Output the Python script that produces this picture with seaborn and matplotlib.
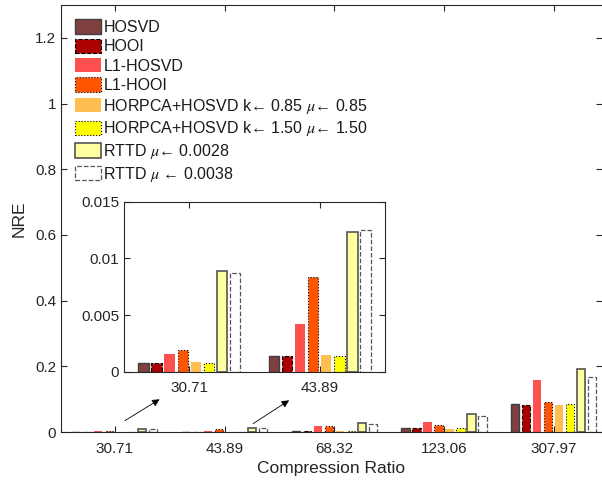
import numpy as np
import pandas as pd
import matplotlib
matplotlib.use('Agg')
import matplotlib.pyplot as plt
import seaborn as sns
from matplotlib.patches import Patch
from matplotlib.ticker import FuncFormatter

# data
ratios = ['30.71', '43.89', '68.32', '123.06', '307.97']
methods = ['HOSVD', 'HOOI', 'L1-HOSVD', 'L1-HOOI',
           'HORPCA+HOSVD k\u2190 0.85 $\\mu$\u2190 0.85',
           'HORPCA+HOSVD k\u2190 1.50 $\\mu$\u2190 1.50',
           'RTTD $\\mu$\u2190 0.0028',
           'RTTD $\\mu$ \u2190 0.0038']
hosvd = [0.00074, 0.00135, 0.004, 0.012, 0.085]
hooi = [0.00074, 0.00135, 0.004, 0.011, 0.083]
l1_hosvd = [0.00156, 0.0042, 0.018, 0.029, 0.158]
l1_hooi = [0.0019, 0.0084, 0.017, 0.021, 0.091]
horpca_085 = [0.00082, 0.00144, 0.003, 0.010, 0.082]
horpca_150 = [0.00074, 0.00135, 0.004, 0.012, 0.085]
rttd_0028 = [0.0089, 0.0123, 0.028, 0.054, 0.192]
rttd_0038 = [0.0087, 0.0125, 0.024, 0.050, 0.167]
series = [hosvd, hooi, l1_hosvd, l1_hooi, horpca_085, horpca_150, rttd_0028, rttd_0038]

# styles
faces = ['#804040', '#AA0000', '#FF5050', '#FF5500', '#FFBF50', '#FFFF00', '#FFFFA0', '#FFFFFF']
edges = ['#404040', 'black', 'none', 'black', 'none', 'black', '#555555', '#555555']
styles = ['-', '--', '-', ':', '-', ':', '-', '--']
widths = [1.0, 0.8, 0.0, 0.8, 0.0, 0.8, 1.2, 0.9]

sns.set_theme(style='ticks')
plt.rcParams['font.family'] = ['Liberation Sans', 'DejaVu Sans']
plt.rcParams['mathtext.fontset'] = 'stix'
axcol = '#262626'

df = pd.DataFrame([
    {'ratio': r, 'method': m, 'nre': v}
    for m, vals in zip(methods, series)
    for r, v in zip(ratios, vals)
])


def style_bars(ax):
    for i, cont in enumerate(ax.containers):
        for p in cont:
            p.set_facecolor(faces[i])
            p.set_edgecolor(edges[i])
            p.set_linestyle(styles[i])
            p.set_linewidth(widths[i])


def style_axes(ax):
    for s in ax.spines.values():
        s.set_color(axcol)
        s.set_linewidth(0.8)
    ax.tick_params(direction='in', length=4, width=0.8, colors=axcol,
                   labelsize=11, top=True, right=True)
    ax.tick_params(axis='x', pad=7)
    ax.yaxis.set_major_formatter(FuncFormatter(lambda v, p: '%g' % v))


fig = plt.figure(figsize=(6.02, 4.82), dpi=100)
ax = fig.add_axes([61 / 602, 50 / 482, 541 / 602, 427 / 482])
sns.barplot(data=df, x='ratio', y='nre', hue='method', order=ratios,
            hue_order=methods, palette=faces, gap=0.25, width=0.8,
            legend=False, ax=ax)
style_bars(ax)
style_axes(ax)
ax.spines['right'].set_visible(False)
ax.set_xlim(-0.49, 4.44)
ax.set_ylim(0, 1.3)
ax.set_yticks([0, 0.2, 0.4, 0.6, 0.8, 1.0, 1.2])
ax.set_xlabel('Compression Ratio', fontsize=12.5, color=axcol, labelpad=4)
ax.set_ylabel('NRE', fontsize=12.5, color=axcol, labelpad=6)

handles = [Patch(facecolor=f, edgecolor=e, linestyle=s, linewidth=max(w, 0.8) if e != 'none' else 0)
           for f, e, s, w in zip(faces, edges, styles, widths)]
leg = ax.legend(handles, methods, loc='upper left', bbox_to_anchor=(0.0, 1.0),
                frameon=False, fontsize=11.5, handlelength=1.6, handleheight=1.0,
                handletextpad=0.15, labelspacing=0.23, borderaxespad=0.5)
for t in leg.get_texts():
    t.set_color('#1a1a1a')

# arrows to the inset
ax.annotate('', xy=(0.43, 0.104), xytext=(0.07, 0.030),
            arrowprops=dict(arrowstyle='-|>', color='black', lw=0.6, mutation_scale=11))
ax.annotate('', xy=(1.61, 0.101), xytext=(1.24, 0.021),
            arrowprops=dict(arrowstyle='-|>', color='black', lw=0.6, mutation_scale=11))

# inset zoom of the two smallest ratios
ins = fig.add_axes([124 / 602, (482 - 371.7) / 482, 261 / 602, 170 / 482])
sns.barplot(data=df[df['ratio'].isin(ratios[:2])], x='ratio', y='nre', hue='method',
            order=ratios[:2], hue_order=methods, palette=faces, gap=0.2, width=0.8,
            legend=False, ax=ins)
style_bars(ins)
style_axes(ins)
ins.set_xlim(-0.5, 1.5)
ins.set_ylim(0, 0.015)
ins.set_yticks([0, 0.005, 0.01, 0.015])
ins.set_xlabel('')
ins.set_ylabel('')

fig.savefig('out.png', dpi=100)
